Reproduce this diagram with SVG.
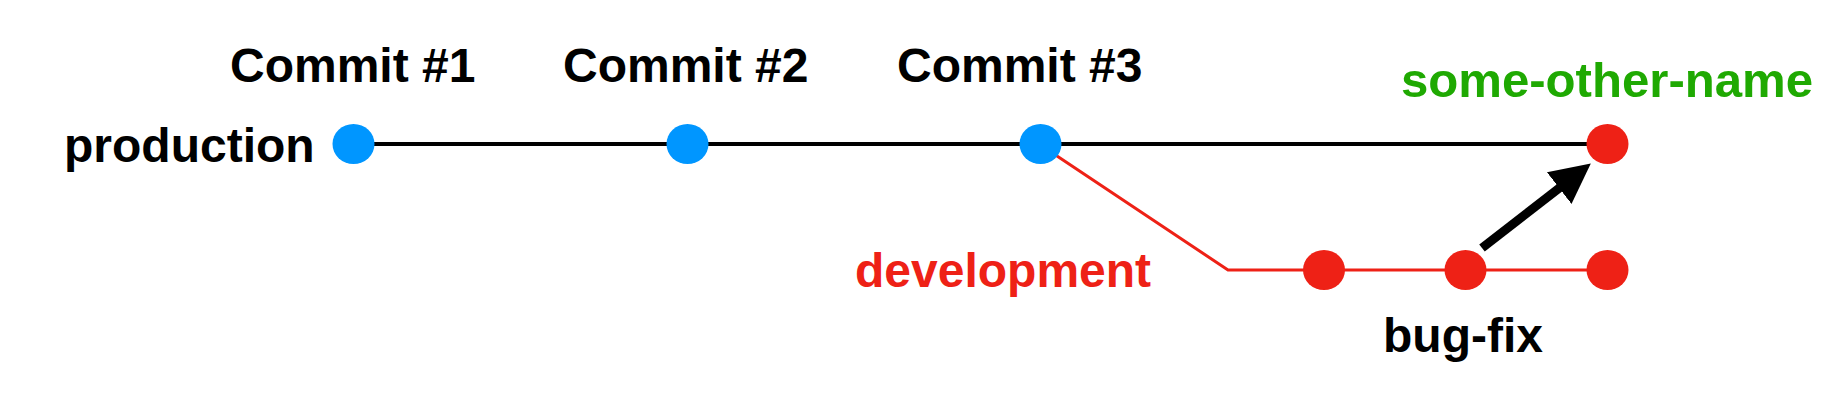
<svg xmlns="http://www.w3.org/2000/svg" width="1838" height="410" viewBox="0 0 1838 410">
<style>
.lbl{font-family:"Liberation Sans",Arial,Helvetica,sans-serif;font-weight:bold;font-size:48px}
.blk{fill:#000}
.red{fill:#EE2116}
.grn{fill:#1FA902}
.blue{fill:#0096FF}
.rdot{fill:#EE2116}
</style>
<defs>
<marker id="head" markerUnits="userSpaceOnUse" markerWidth="44" markerHeight="44" viewBox="0 -22 44 44" refX="1" refY="0" orient="auto">
<path d="M0,-20 L40,0 L0,20 z" fill="#000"/>
</marker>
</defs>
<rect width="1838" height="410" fill="#fff"/>
<g id="connectors">
<line x1="353" y1="144" x2="1607" y2="144" stroke="#000" stroke-width="4"/>
<polyline points="1054,154 1228,270 1607,270" fill="none" stroke="#EE2116" stroke-width="3"/>
<line x1="1482" y1="248" x2="1560" y2="187.5" stroke="#000" stroke-width="9" marker-end="url(#head)"/>
</g>
<g id="commit1"><ellipse cx="353.5" cy="144" rx="21" ry="20" class="blue"/><text class="lbl blk" x="230" y="82">Commit #1</text></g>
<g id="commit2"><ellipse cx="687.5" cy="144" rx="21" ry="20" class="blue"/><text class="lbl blk" x="563" y="82">Commit #2</text></g>
<g id="commit3"><ellipse cx="1040.5" cy="144" rx="21" ry="20" class="blue"/><text class="lbl blk" x="897" y="82">Commit #3</text></g>
<g id="production-label"><text class="lbl blk" x="64" y="162">production</text></g>
<g id="some-other-name"><ellipse cx="1607.5" cy="144" rx="21" ry="20" class="rdot"/><text class="lbl grn" x="1401" y="97" textLength="412" lengthAdjust="spacingAndGlyphs">some-other-name</text></g>
<g id="development-label"><text class="lbl red" x="855" y="287">development</text></g>
<g id="dev1"><ellipse cx="1324" cy="270" rx="21" ry="20" class="rdot"/></g>
<g id="bug-fix"><ellipse cx="1465.5" cy="270" rx="21" ry="20" class="rdot"/><text class="lbl blk" x="1383" y="352">bug-fix</text></g>
<g id="dev3"><ellipse cx="1607.5" cy="270" rx="21" ry="20" class="rdot"/></g>
</svg>
